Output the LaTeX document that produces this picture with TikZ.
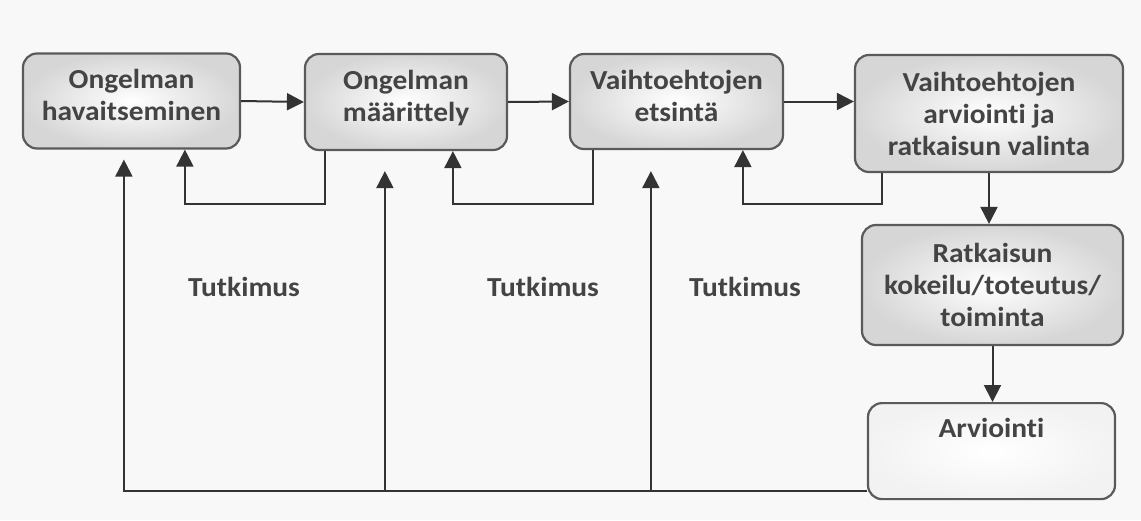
\documentclass[tikz,border=0pt]{standalone}
\usepackage{fontspec}
\setmainfont[FakeStretch=1.07, Ligatures=NoCommon]{Carlito}
\usetikzlibrary{arrows.meta}
\definecolor{edge}{HTML}{5A5A5A}
\definecolor{ink}{HTML}{333333}
\definecolor{txt}{HTML}{444444}
\definecolor{paper}{HTML}{F8F8F8}
\begin{document}
\begin{tikzpicture}[x=1pt,y=-1pt,
  stage/.style={draw=edge, line width=2.2pt, rounded corners=14pt, align=center,
    text=txt, font=\fontsize{27.5}{32}\selectfont\bfseries, inner sep=0pt,
    shading=radial, inner color=white, outer color=gray!32},
  lightstage/.style={stage, inner color=white, outer color=gray!10},
  flow/.style={draw=ink, line width=2pt, -{Triangle[length=17pt,width=17pt]}},
  lbl/.style={text=txt, font=\fontsize{27.5}{32}\selectfont\bfseries}]
\fill[paper] (0,0) rectangle (1141,520);
\useasboundingbox (0,0) rectangle (1141,520);

% process stages (two-line labels get a short trailing line to sit a little higher)
\node[stage, minimum width=217pt, minimum height=95pt] (b1) at (131.5,101)
  {Ongelman\\havaitseminen\\[-20pt]\mbox{}};
\node[stage, minimum width=202pt, minimum height=96pt] (b2) at (406,102)
  {Ongelman\\määrittely\\[-20pt]\mbox{}};
\node[stage, minimum width=213pt, minimum height=95pt] (b3) at (676.5,101.5)
  {Vaihtoehtojen\\etsintä\\[-20pt]\mbox{}};
\node[stage, minimum width=268pt, minimum height=117pt] (b4) at (989,113.5)
  {Vaihtoehtojen\\arviointi ja\\ratkaisun valinta};
\node[stage, minimum width=261pt, minimum height=120pt] (b5) at (992.5,285)
  {Ratkaisun\\kokeilu/toteutus/\\toiminta};
\node[lightstage, anchor=north, minimum width=247pt, inner ysep=6pt,
  text height=28pt, text depth=56pt] (b6) at (991.5,402) {Arviointi};

% research labels
\node[lbl] (l1) at (244,287) {Tutkimus};
\node[lbl] (l2) at (543,287) {Tutkimus};
\node[lbl] (l3) at (745,287) {Tutkimus};

% forward flow
\draw[flow] (b1.east) -- (b2.west);
\draw[flow] (b2.east) -- (b3.west);
\draw[flow] (b3.east) -- (b3.east -| b4.west);
\draw[flow] (b4.south) -- (b4.south |- b5.north);
\draw[flow] (b5.south) -- (b5.south |- b6.north);

% feedback loops
\draw[flow] ([xshift=21pt]b2.south west) -- ++(0,53) -| ([xshift=163pt]b1.south west);
\draw[flow] ([xshift=24pt]b3.south west) -- ++(0,54) -| ([xshift=149pt]b2.south west);
\draw[flow] ([xshift=28pt]b4.south west) -- ++(0,31) -| ([xshift=174pt]b3.south west);

% return from evaluation
\coordinate (rb) at ([yshift=-40pt]b6.west);
\coordinate (t1) at ([shift={(102pt,-10pt)}]b1.south west);
\coordinate (t2) at ([shift={(81pt,-20pt)}]b2.south west);
\coordinate (t3) at ([shift={(82pt,-21pt)}]b3.south west);
\draw[flow] (rb) -| (t1);
\draw[flow] (t2 |- rb) -- (t2);
\draw[flow] (t3 |- rb) -- (t3);
\end{tikzpicture}
\end{document}
